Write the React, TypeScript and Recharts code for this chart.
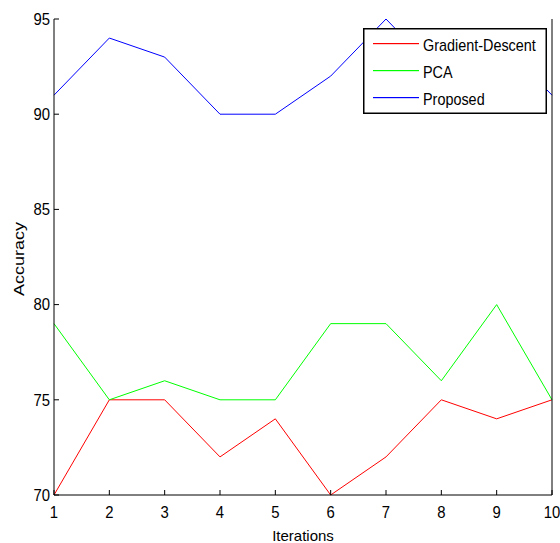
import React from "react";
import { LineChart, Line, XAxis, YAxis } from "recharts";

// values
const iterations = [1, 2, 3, 4, 5, 6, 7, 8, 9, 10];
const gradientDescent = [70, 75, 75, 72, 74, 70, 72, 75, 74, 75];
const pca = [79, 75, 76, 75, 75, 79, 79, 76, 80, 75];
const proposed = [91, 94, 93, 90, 90, 92, 95, 92, 94, 91];
const yTicks = [70, 75, 80, 85, 90, 95];

const series = [
  { key: "gd", name: "Gradient-Descent", color: "#ff0000" },
  { key: "pca", name: "PCA", color: "#00ff00" },
  { key: "proposed", name: "Proposed", color: "#0000ff" },
];

const data = iterations.map((it, i) => ({
  iter: it,
  gd: gradientDescent[i],
  pca: pca[i],
  proposed: proposed[i],
}));

const FONT = '"Liberation Sans", Arial, Helvetica, sans-serif';
const tickStyle = { fontSize: 16, fill: "#000", fontFamily: FONT };
const noLabel = () => <g />;

// x tick: slightly narrowed digits like the MATLAB export
const XTick = (props: any) => {
  const { x, y, payload } = props;
  return (
    <text transform={`translate(${x},${y}) scale(0.93,1)`} textAnchor="middle" dy="0.71em" {...tickStyle}>
      {payload.value}
    </text>
  );
};

const YTick = (props: any) => {
  const { x, y, payload } = props;
  return (
    <text transform={`translate(${x},${y}) scale(0.93,1)`} textAnchor="end" dy="0.36em" {...tickStyle}>
      {payload.value}
    </text>
  );
};

const XTitle = (props: any) => {
  const { viewBox } = props;
  return (
    <text x={viewBox.x + viewBox.width / 2} y={541} textAnchor="middle" fontSize={15} fontFamily={FONT} fill="#000">
      Iterations
    </text>
  );
};

const YTitle = (props: any) => {
  const { viewBox } = props;
  const cy = viewBox.y + viewBox.height / 2 + 2;
  return (
    <text
      transform={`translate(18.5,${cy}) rotate(-90) scale(1,0.8)`}
      textAnchor="middle"
      dy="0.36em"
      fontSize={18}
      fontFamily={FONT}
      fill="#000"
    >
      Accuracy
    </text>
  );
};

// legend drawn as an overlay box, like the MATLAB one
const LegendBox = () => (
  <svg
    width={184}
    height={86}
    style={{ position: "absolute", left: 363, top: 28, fontFamily: FONT }}
  >
    <rect x={0.75} y={0.75} width={182.5} height={84.5} fill="#fff" stroke="#000" strokeWidth={1.5} />
    {series.map((s, i) => (
      <g key={s.key}>
        <rect x={10} y={15 + i * 27} width={46} height={1.2} fill={s.color} />
        <text
          transform={`translate(60,${17 + i * 27}) scale(0.9,1)`}
          dy="0.36em"
          fontSize={16}
          fill="#000"
        >
          {s.name}
        </text>
      </g>
    ))}
  </svg>
);

export default function App() {
  return (
    <div style={{ position: "absolute", left: 0, top: 0, width: 560, height: 543, background: "#fff" }}>
      <LineChart width={560} height={543} data={data} margin={{ top: 19, right: 7, left: 0, bottom: 0 }}>
        <XAxis
          xAxisId="bottom"
          dataKey="iter"
          type="number"
          domain={[1, 10]}
          ticks={iterations}
          height={48}
          stroke="#000"
          tick={<XTick />}
          tickSize={-5}
          tickMargin={17}
          label={<XTitle />}
        />
        <XAxis
          xAxisId="top"
          orientation="top"
          dataKey="iter"
          type="number"
          domain={[1, 10]}
          ticks={iterations}
          height={0}
          stroke="#000"
          tick={noLabel}
          tickSize={-5}
        />
        <YAxis
          yAxisId="left"
          domain={[70, 95]}
          ticks={yTicks}
          width={54}
          stroke="#000"
          tick={<YTick />}
          tickSize={-5}
          tickMargin={9}
          label={<YTitle />}
        />
        <YAxis
          yAxisId="right"
          orientation="right"
          domain={[70, 95]}
          ticks={yTicks}
          width={1}
          stroke="#000"
          tick={noLabel}
          tickSize={-5}
        />
        {series.map((s) => (
          <Line
            key={s.key}
            xAxisId="bottom"
            yAxisId="left"
            type="linear"
            dataKey={s.key}
            name={s.name}
            stroke={s.color}
            strokeWidth={1}
            dot={false}
            isAnimationActive={false}
          />
        ))}
      </LineChart>
      <LegendBox />
    </div>
  );
}
